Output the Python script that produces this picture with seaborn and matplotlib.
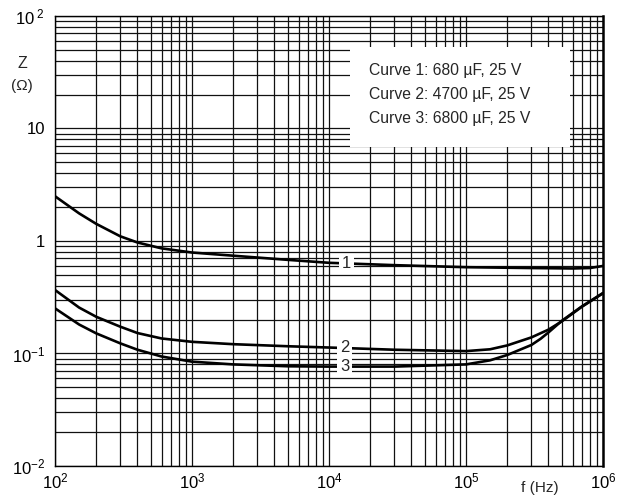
import matplotlib.pyplot as plt
import matplotlib.ticker as mticker
from matplotlib.patches import Rectangle
import numpy as np
import pandas as pd
import seaborn as sns

# Impedance vs frequency
freq1 = [100, 150, 200, 300, 400, 600, 1000, 2000, 5000, 10000, 30000,
         100000, 300000, 600000, 800000, 1000000]
z1 = [2.5, 1.76, 1.42, 1.10, 0.97, 0.86, 0.79, 0.74, 0.68, 0.64, 0.61,
      0.585, 0.575, 0.57, 0.575, 0.60]

freq2 = [100, 150, 200, 300, 400, 600, 1000, 2000, 5000, 10000, 30000,
         100000, 150000, 200000, 300000, 400000, 500000, 700000, 1000000]
z2 = [0.367, 0.256, 0.212, 0.173, 0.152, 0.136, 0.127, 0.121, 0.116, 0.113, 0.108,
      0.105, 0.109, 0.118, 0.139, 0.163, 0.193, 0.26, 0.343]

freq3 = [100, 150, 200, 300, 400, 600, 1000, 2000, 5000, 10000, 30000,
         100000, 150000, 200000, 300000, 350000, 400000, 500000, 700000, 1000000]
z3 = [0.252, 0.181, 0.151, 0.123, 0.108, 0.094, 0.0846, 0.080, 0.077, 0.0765, 0.0765,
      0.080, 0.087, 0.097, 0.119, 0.135, 0.154, 0.195, 0.262, 0.345]

curve_names = ['1', '2', '3']
legend_lines = ['Curve 1: 680 \u00b5F, 25 V',
                'Curve 2: 4700 \u00b5F, 25 V',
                'Curve 3: 6800 \u00b5F, 25 V']
label_pos = [(13500, 0.625), (13000, 0.114), (13000, 0.076)]

xticks = [1e2, 1e3, 1e4, 1e5, 1e6]
xticklabels = [r'$10^{2}$', r'$10^{3}$', r'$10^{4}$', r'$10^{5}$', r'$10^{6}$']
yticks = [1e-2, 1e-1, 1, 10, 1e2]
yticklabels = [r'$10^{-2}$', r'$10^{-1}$', '1', '10', r'$10^{\ 2}$']

df = pd.concat([
    pd.DataFrame({'f': freq1, 'Z': z1, 'curve': '1'}),
    pd.DataFrame({'f': freq2, 'Z': z2, 'curve': '2'}),
    pd.DataFrame({'f': freq3, 'Z': z3, 'curve': '3'}),
])

sns.set_style('white')
plt.rcParams['font.family'] = ['Liberation Sans', 'DejaVu Sans']
plt.rcParams['mathtext.fontset'] = 'custom'
plt.rcParams['mathtext.rm'] = 'Liberation Sans'
plt.rcParams['mathtext.it'] = 'Liberation Sans'

fig = plt.figure(figsize=(6.17, 4.98), dpi=100)
ax = fig.add_axes([55 / 617, 1 - 466 / 498, 548 / 617, 450 / 498])

sns.lineplot(data=df, x='f', y='Z', hue='curve', units='curve', estimator=None,
             palette=['black'] * 3, linewidth=1.9, legend=False, ax=ax, zorder=3)

ax.set_xscale('log')
ax.set_yscale('log')
ax.set_xlim(1e2, 1e6)
ax.set_ylim(1e-2, 1e2)

ax.xaxis.set_major_locator(mticker.FixedLocator(xticks))
ax.yaxis.set_major_locator(mticker.FixedLocator(yticks))
ax.xaxis.set_minor_locator(mticker.LogLocator(base=10, subs=np.arange(2, 10)))
ax.yaxis.set_minor_locator(mticker.LogLocator(base=10, subs=np.arange(2, 10)))
ax.xaxis.set_minor_formatter(mticker.NullFormatter())
ax.yaxis.set_minor_formatter(mticker.NullFormatter())
ax.set_xticklabels(xticklabels)
ax.set_yticklabels(yticklabels)
ax.tick_params(which='both', length=0, labelsize=12, colors='black')
ax.tick_params(axis='x', pad=4)
ax.tick_params(axis='y', pad=7)

ax.set_axisbelow(True)
ax.grid(which='both', color='#111111', linewidth=0.9)
for s in ax.spines.values():
    s.set_color('black')
    s.set_linewidth(1.0)
ax.spines['right'].set_linewidth(1.8)

ax.set_xlabel('')
ax.set_ylabel('')

# legend box
ax.add_patch(Rectangle((0.538, 0.709), 0.402, 0.222, transform=ax.transAxes,
                       facecolor='white', edgecolor='none', zorder=2))
for i, txt in enumerate(legend_lines):
    ax.text(0.573, 0.878 - i * 0.0525, txt, transform=ax.transAxes, fontsize=11.3,
            va='center', ha='left', zorder=4)

# curve numbers
for name, (fx, fy) in zip(curve_names, label_pos):
    ax.text(fx, fy, name, fontsize=12, ha='center', va='center', zorder=4,
            bbox=dict(facecolor='white', edgecolor='none', pad=2.0))

fig.text(22 / 617, 1 - 63 / 498, 'Z', fontsize=11.5, ha='center', va='center')
fig.text(22 / 617, 1 - 86 / 498, '(\u03a9)', fontsize=11, ha='center', va='center')
fig.text(540 / 617, 1 - 488 / 498, 'f (Hz)', fontsize=11, ha='center', va='center')

fig.savefig('out.png', dpi=100)
